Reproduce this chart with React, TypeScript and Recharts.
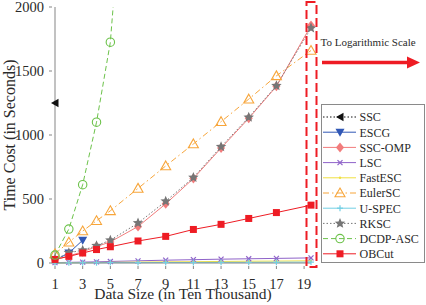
import React from 'react'
import { LineChart, Line, XAxis, YAxis, Label } from 'recharts'

const FONT = '"Liberation Serif", "Times New Roman", serif'
const AXIS = '#858585'
const INK = '#2a2a2a'

// data size in ten thousand
const X_VALUES = [1, 2, 3, 4, 5, 7, 9, 11, 13, 15, 17, 19.5]
const X_TICKS = [1, 3, 5, 7, 9, 11, 13, 15, 17, 19]
const Y_TICKS = [0, 500, 1000, 1500, 2000]

// time cost in seconds
const SSC = [1250]
const ESCG = [22, 78, 178]
const SSC_OMP = [25, 55, 88, 128, 165, 285, 462, 660, 898, 1130, 1380, 1855]
const LSC = [3, 5, 7, 9, 12, 17, 22, 26, 30, 33, 36, 40]
const FAST_ESC = [1, 2, 3, 4, 5, 7, 9, 10, 12, 14, 15, 17]
const EULER_SC = [72, 162, 250, 330, 408, 583, 758, 930, 1104, 1280, 1462, 1660]
const U_SPEC = [1, 1, 2, 2, 3, 3, 4, 4, 5, 5, 6, 7]
const RKSC = [28, 80, 100, 135, 178, 312, 482, 668, 908, 1138, 1385, 1835]
const DCDP_ASC = [62, 265, 612, 1100, 1725, 4480]
const OBCUT = [28, 52, 78, 105, 127, 172, 208, 262, 302, 348, 394, 452]

type MarkerKind = 'left' | 'down' | 'diamond' | 'x' | 'point' | 'up' | 'plus' | 'star' | 'circle' | 'square'

interface Series {
  name: string
  values: number[]
  color: string
  dash?: string
  marker: MarkerKind
}

const SERIES: Series[] = [
  { name: 'SSC', values: SSC, color: '#111111', dash: '1.5 2', marker: 'left' },
  { name: 'ESCG', values: ESCG, color: '#3057b5', marker: 'down' },
  { name: 'SSC-OMP', values: SSC_OMP, color: '#f27c7c', marker: 'diamond' },
  { name: 'LSC', values: LSC, color: '#8f63c9', marker: 'x' },
  { name: 'FastESC', values: FAST_ESC, color: '#f0e040', marker: 'point' },
  { name: 'EulerSC', values: EULER_SC, color: '#f7a53a', dash: '6 3 1.5 3', marker: 'up' },
  { name: 'U-SPEC', values: U_SPEC, color: '#72cfe4', marker: 'plus' },
  { name: 'RKSC', values: RKSC, color: '#767676', dash: '1.5 2', marker: 'star' },
  { name: 'DCDP-ASC', values: DCDP_ASC, color: '#6cc24a', dash: '5 3', marker: 'circle' },
  { name: 'OBCut', values: OBCUT, color: '#ee1c24', marker: 'square' },
]

const toPoints = (vals: number[]) => vals.map((y, i) => ({ x: X_VALUES[i], y }))

function starPoints(cx: number, cy: number, r: number) {
  const pts: string[] = []
  for (let i = 0; i < 10; i++) {
    const rad = i % 2 === 0 ? r : r * 0.45
    const a = -Math.PI / 2 + (i * Math.PI) / 5
    pts.push(`${cx + rad * Math.cos(a)},${cy + rad * Math.sin(a)}`)
  }
  return pts.join(' ')
}

function Marker({ kind, cx, cy, color }: { kind: MarkerKind; cx: number; cy: number; color: string }) {
  switch (kind) {
    case 'left':
      return <polygon points={`${cx - 4},${cy} ${cx + 3.5},${cy - 4.2} ${cx + 3.5},${cy + 4.2}`} fill={color} />
    case 'down':
      return <polygon points={`${cx - 4.5},${cy - 3.5} ${cx + 4.5},${cy - 3.5} ${cx},${cy + 4.5}`} fill={color} />
    case 'diamond':
      return <polygon points={`${cx},${cy - 5} ${cx + 4},${cy} ${cx},${cy + 5} ${cx - 4},${cy}`} fill={color} />
    case 'x':
      return (
        <g stroke={color} strokeWidth={1.2}>
          <line x1={cx - 2.5} y1={cy - 2.5} x2={cx + 2.5} y2={cy + 2.5} />
          <line x1={cx - 2.5} y1={cy + 2.5} x2={cx + 2.5} y2={cy - 2.5} />
        </g>
      )
    case 'point':
      return <circle cx={cx} cy={cy} r={1.2} fill={color} />
    case 'up':
      return <polygon points={`${cx},${cy - 5} ${cx + 5},${cy + 3.8} ${cx - 5},${cy + 3.8}`} fill="none" stroke={color} strokeWidth={1.1} />
    case 'plus':
      return (
        <g stroke={color} strokeWidth={1.2}>
          <line x1={cx - 3} y1={cy} x2={cx + 3} y2={cy} />
          <line x1={cx} y1={cy - 3} x2={cx} y2={cy + 3} />
        </g>
      )
    case 'star':
      return <polygon points={starPoints(cx, cy, 5.5)} fill={color} />
    case 'circle':
      return <circle cx={cx} cy={cy} r={4.2} fill="none" stroke={color} strokeWidth={1.1} />
    case 'square':
      return <rect x={cx - 3.5} y={cy - 3.5} width={7} height={7} fill={color} />
  }
  return null
}

const dotFor = (s: Series) => (p: any) => {
  if (p.cx == null || p.cy == null) return <g key={`${s.name}-${p.index}`} />
  return <Marker key={`${s.name}-${p.index}`} kind={s.marker} cx={p.cx} cy={p.cy} color={s.color} />
}

const BottomTick = (p: any) => (
  <g>
    <line x1={p.x} y1={p.y} x2={p.x} y2={p.y - 3} stroke={AXIS} />
    <text x={p.x} y={p.y + 20} textAnchor="middle" fontFamily={FONT} fontSize={14.5} fill={INK}>
      {p.payload.value}
    </text>
  </g>
)

const LeftTick = (p: any) => (
  <g>
    <line x1={p.x} y1={p.y} x2={p.x + 3} y2={p.y} stroke={AXIS} />
    <text x={p.x - 5} y={p.y + 5} textAnchor="end" fontFamily={FONT} fontSize={14.5} fill={INK}>
      {p.payload.value}
    </text>
  </g>
)

const TopTick = (p: any) => <line x1={p.x} y1={p.y} x2={p.x} y2={p.y + 3} stroke={AXIS} />
const RightTick = (p: any) => <line x1={p.x} y1={p.y} x2={p.x - 3} y2={p.y} stroke={AXIS} />

// x-axis title, placed from the axis box
const XTitle = (props: any) => {
  const vb = props.viewBox || { x: 55, y: 263, width: 256, height: 42 }
  return (
    <text x={vb.x + vb.width / 2} y={vb.y + 35.5} textAnchor="middle" fontFamily={FONT} fontSize={15.5} fill={INK}>
      Data Size (in Ten Thousand)
    </text>
  )
}

function LegendBox() {
  const top = 117
  const step = 15.2
  return (
    <g>
      <rect x={321.5} y={104.5} width={103} height={158} fill="#fff" stroke="#8a8a8a" />
      {SERIES.map((s, i) => {
        const y = top + i * step
        return (
          <g key={s.name}>
            <line x1={323} y1={y} x2={356} y2={y} stroke={s.color} strokeDasharray={s.dash} />
            <Marker kind={s.marker} cx={340} cy={y} color={s.color} />
            <text x={359.5} y={y + 4.3} fontFamily={FONT} fontSize={12} fill={INK}>
              {s.name}
            </text>
          </g>
        )
      })}
    </g>
  )
}

export default function App() {
  const dcdp = SERIES[8]
  return (
    <div style={{ position: 'fixed', left: 0, top: 0, width: 426, height: 305, background: '#fff' }}>
      <LineChart width={426} height={305} margin={{ top: 7, right: 115, bottom: 0, left: 0 }}>
        <XAxis
          dataKey="x"
          type="number"
          domain={[1, 19.5]}
          ticks={X_TICKS}
          interval={0}
          height={42}
          stroke={AXIS}
          tickLine={false}
          tickMargin={0}
          tick={BottomTick}
        >
          <Label content={XTitle} />
        </XAxis>
        <XAxis
          xAxisId="top"
          orientation="top"
          dataKey="x"
          type="number"
          domain={[1, 19.5]}
          allowDataOverflow
          ticks={X_TICKS}
          interval={0}
          height={0}
          stroke={AXIS}
          tickLine={false}
          tickMargin={0}
          tick={TopTick}
        />
        <YAxis
          type="number"
          domain={[0, 2000]}
          ticks={Y_TICKS}
          interval={0}
          width={55}
          stroke={AXIS}
          tickLine={false}
          tickMargin={0}
          tick={LeftTick}
        >
          <Label
            value="Time Cost (in Seconds)"
            angle={-90}
            position="insideLeft"
            offset={9}
            style={{ fontFamily: FONT, fontSize: 16, fill: INK, textAnchor: 'middle' }}
          />
        </YAxis>
        <YAxis
          yAxisId="right"
          orientation="right"
          type="number"
          domain={[0, 2000]}
          allowDataOverflow
          ticks={Y_TICKS}
          interval={0}
          width={0}
          stroke={AXIS}
          tickLine={false}
          tickMargin={0}
          tick={RightTick}
        />
        <YAxis yAxisId="clip" hide type="number" domain={[0, 2000]} allowDataOverflow />

        {SERIES.map((s) =>
          s.name === 'DCDP-ASC' ? (
            <Line
              key={s.name}
              yAxisId="clip"
              data={toPoints(s.values)}
              dataKey="y"
              stroke={s.color}
              strokeWidth={1}
              strokeDasharray={s.dash}
              dot={false}
              isAnimationActive={false}
            />
          ) : (
            <Line
              key={s.name}
              data={toPoints(s.values)}
              dataKey="y"
              stroke={s.color}
              strokeWidth={1}
              strokeDasharray={s.dash}
              dot={dotFor(s)}
              isAnimationActive={false}
            />
          )
        )}
        {/* DCDP-ASC markers that fall inside the 0-2000 range */}
        <Line
          data={toPoints(dcdp.values).filter((d) => d.y <= 2000)}
          dataKey="y"
          stroke="none"
          dot={dotFor(dcdp)}
          isAnimationActive={false}
        />
      </LineChart>

      <svg width={426} height={305} style={{ position: 'absolute', left: 0, top: 0, pointerEvents: 'none' }}>
        <rect x={306.5} y={2} width={10} height={265} fill="none" stroke="#ee1c24" strokeWidth={2} strokeDasharray="9 4" />
        <text x={320.5} y={46} fontFamily={FONT} fontSize={11} fill={INK}>
          To Logarithmic Scale
        </text>
        <line x1={322} y1={62.5} x2={409} y2={62.5} stroke="#ee1c24" strokeWidth={3.5} />
        <polygon points="407,56.5 420,62.5 407,68.5" fill="#ee1c24" />
        <LegendBox />
      </svg>
    </div>
  )
}
